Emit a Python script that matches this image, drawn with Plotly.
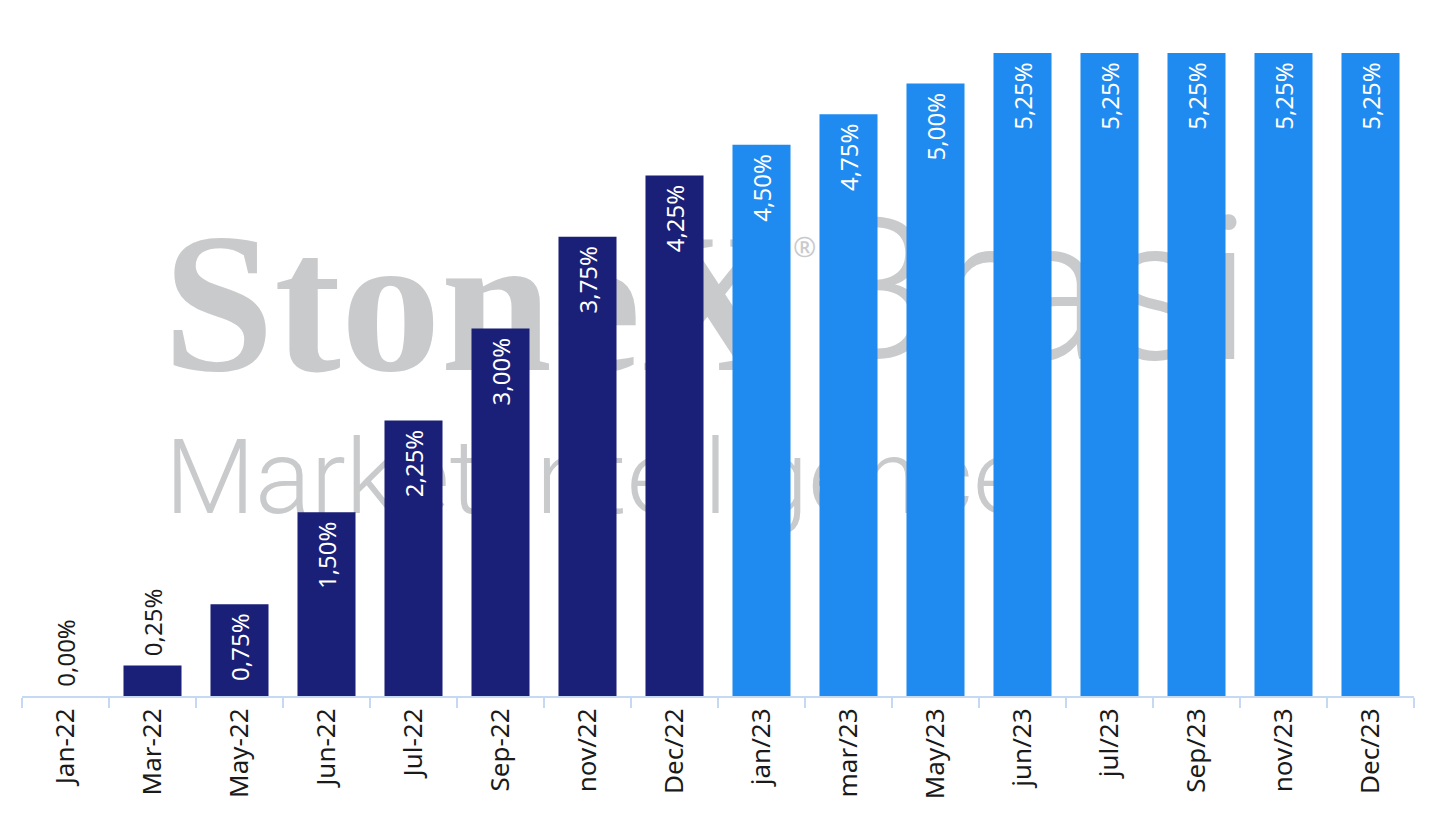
import plotly.graph_objects as go

categories = ["Jan-22", "Mar-22", "May-22", "Jun-22", "Jul-22", "Sep-22", "nov/22", "Dec/22",
              "jan/23", "mar/23", "May/23", "jun/23", "jul/23", "Sep/23", "nov/23", "Dec/23"]
rates = [0.00, 0.25, 0.75, 1.50, 2.25, 3.00, 3.75, 4.25,
         4.50, 4.75, 5.00, 5.25, 5.25, 5.25, 5.25, 5.25]
realized_count = 8  # first 8 are realized (dark), rest projected (blue)

DARK = "#1a1f77"
BLUE = "#1f8af0"
colors = [DARK if i < realized_count else BLUE for i in range(len(categories))]
positions = ["outside" if v < 0.5 else "inside" for v in rates]
labels = []
for v, p in zip(rates, positions):
    s = f"{v:.2f}%".replace(".", ",")
    labels.append("\u00a0" + s if p == "outside" else s + "\u00a0")

FONT = "Noto Sans"
fig = go.Figure(go.Bar(
    x=categories, y=rates, marker=dict(color=colors, line=dict(width=0)),
    text=labels, textposition=positions, textangle=-90, constraintext="none",
    insidetextanchor="end", cliponaxis=False,
    outsidetextfont=dict(family=FONT, size=24, color="#1a1a1a"),
    insidetextfont=dict(family=FONT, size=24, color="white"),
))

W, H = 1437, 816
OFF = 8  # page body offset
L, R, T, B = 14, 31, 45, 128
pw, ph = W - L - R, H - T - B

def px(x):
    return (x - OFF - L) / pw

def py(y):
    return (H - B + OFF - y) / ph

WM = "#c9cacc"
shapes = []
def wm(text, x0, x1, y0, y1, size, family, weight="normal", pos="middle left"):
    shapes.append(dict(type="rect", xref="paper", yref="paper", layer="below",
                       x0=px(x0), x1=px(x1), y0=py(y1), y1=py(y0),
                       line=dict(width=0), fillcolor="rgba(0,0,0,0)",
                       label=dict(text=text, textposition=pos, padding=0,
                                  font=dict(size=size, color=WM, family=family, weight=weight))))

wm("StoneX", 160, 790, 200, 360, 200, "Liberation Serif", "bold")
wm("®", 790, 820, 228, 268, 28, "Noto Sans")
wm("Brasil", 808, 1290, 196, 356, 200, "Roboto", 300)
wm("Market Intelligence", 162, 1010, 414, 524, 104, "Roboto", 300)

fig.update_layout(
    width=W, height=H, margin=dict(l=L, r=R, t=T, b=B),
    plot_bgcolor="white", paper_bgcolor="white",
    bargap=0.333, showlegend=False, shapes=shapes,
    xaxis=dict(type="category", tickangle=-90, tickson="boundaries",
               ticks="outside", ticklen=10, tickcolor="#c5daf2", tickwidth=2,
               showline=True, linecolor="#c5daf2", linewidth=2,
               showgrid=False, zeroline=False,
               tickfont=dict(family=FONT, size=26, color="#1a1a1a")),
    yaxis=dict(range=[0, 5.25], visible=False, showgrid=False, zeroline=False),
)

fig.write_html("out.html")
